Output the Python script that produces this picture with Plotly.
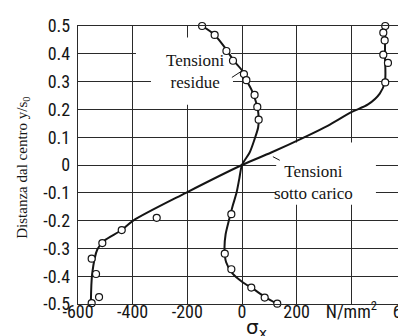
import plotly.graph_objects as go

# ---- data ----
# "Tensioni residue" curve (sigma_x, y/s0)
res_curve_x = [-146, -100, -57, -30, 0, 16, 35, 50, 58, 61, 59, 46, 28, 0, -10, -20, -35, -48, -60, -64, -58, -35, 0, 40, 85, 130]
res_curve_y = [0.5, 0.468, 0.415, 0.375, 0.34, 0.305, 0.27, 0.23, 0.2, 0.163, 0.135, 0.093, 0.045, 0.0, -0.05, -0.1, -0.15, -0.2, -0.25, -0.3, -0.35, -0.39, -0.42, -0.445, -0.475, -0.5]
res_pts_x = [-146, -100, -57, -33, 7, 16, 46, 56, 61, -39, -63, -39, 34, 83, 129]
res_pts_y = [0.5, 0.468, 0.41, 0.375, 0.327, 0.305, 0.252, 0.209, 0.163, -0.177, -0.319, -0.375, -0.441, -0.477, -0.499]

# "Tensioni sotto carico" curve
load_curve_x = [524, 523, 523, 504, 461, 400, 315, 241, 107, 0, -205, -398, -440, -505, -529, -548, -553]
load_curve_y = [0.5, 0.4, 0.3, 0.257, 0.218, 0.19, 0.142, 0.106, 0.045, 0.0, -0.1, -0.2, -0.234, -0.273, -0.303, -0.39, -0.5]
load_pts_x = [524, 517, 522, 517, 534, 524, -312, -440, -511, -550, -534, -523, -550]
load_pts_y = [0.5, 0.476, 0.448, 0.397, 0.367, 0.297, -0.19, -0.234, -0.281, -0.337, -0.392, -0.475, -0.497]

x_ticks = [-600, -400, -200, 0, 200, 400, 600]
x_ticktext = ["-600", "-400", "-200", "0", "200", "N/mm<sup>2</sup>", "600"]
y_ticks = [0.5, 0.4, 0.3, 0.2, 0.1, 0.0, -0.1, -0.2, -0.3, -0.4, -0.5]
y_ticktext = ["0.5", "0.4", "0.3", "0.2", "0.1", "0", "-0.1", "-0.2", "-0.3", "-0.4", "-0.5"]

INK = "#151515"
GRID = "#2a2a2a"
NARROW = "Roboto Condensed, DejaVu Sans Condensed, sans-serif"
SERIF = "Liberation Serif, Times New Roman, serif"

fig = go.Figure()
for cx, cy in [(res_curve_x, res_curve_y), (load_curve_x, load_curve_y)]:
    fig.add_trace(go.Scatter(x=cx, y=cy, mode="lines",
                             line=dict(color=INK, width=2, shape="spline", smoothing=0.8),
                             hoverinfo="skip", showlegend=False, cliponaxis=False))
for px, py in [(res_pts_x, res_pts_y), (load_pts_x, load_pts_y)]:
    fig.add_trace(go.Scatter(x=px, y=py, mode="markers",
                             marker=dict(symbol="circle", size=7, color="white",
                                         line=dict(color=INK, width=1.2)),
                             showlegend=False, cliponaxis=False))

# white boxes that interrupt the grid behind the labels
boxes = [(-388, -40, 0.351, 0.459), (-333, -33, 0.217, 0.351), (125, 490, -0.143, 0.081)]
for x0, x1, y0, y1 in boxes:
    fig.add_shape(type="rect", x0=x0, x1=x1, y0=y0, y1=y1, xref="x", yref="y",
                  fillcolor="white", line=dict(width=0), layer="between")

# small leader ticks
fig.add_shape(type="line", x0=-37, y0=0.315, x1=-4, y1=0.336, line=dict(color=INK, width=1))
fig.add_shape(type="line", x0=113, y0=0.03, x1=138, y1=0.017, line=dict(color=INK, width=1))

fig.add_annotation(x=-170, y=0.335, xref="x", yref="y", text="Tensioni<br>residue",
                   xanchor="center", yanchor="middle",
                   showarrow=False, font=dict(family=SERIF, size=17, color=INK))
fig.add_annotation(x=262, y=-0.062, xref="x", yref="y", text="Tensioni<br>sotto carico",
                   xanchor="center", yanchor="middle",
                   showarrow=False, font=dict(family=SERIF, size=17, color=INK))

fig.add_annotation(x=0.545, y=-0.088, xref="paper", yref="paper", text="σ<sub>x</sub>",
                   showarrow=False, font=dict(family="DejaVu Sans, sans-serif", size=20, color=INK),
                   xanchor="center", yanchor="middle")
fig.add_annotation(x=-0.17, y=0.491, xref="paper", yref="paper",
                   text="Distanza dal centro y/s<sub>0</sub>", textangle=-90,
                   showarrow=False, font=dict(family=SERIF, size=15, color=INK),
                   xanchor="center", yanchor="middle")

axis_common = dict(showgrid=True, gridcolor=GRID, gridwidth=1.3, zeroline=False,
                   showline=True, linecolor=GRID, linewidth=1.3, mirror=True,
                   ticks="", automargin=False,
                   tickfont=dict(family=NARROW, size=18, color=INK))
fig.update_xaxes(range=[-600, 600], tickmode="array", tickvals=x_ticks, ticktext=x_ticktext,
                 ticklabelstandoff=-9, ticklabeloverflow="allow", **axis_common)
fig.update_yaxes(range=[-0.5, 0.5], tickmode="array", tickvals=y_ticks, ticktext=y_ticktext,
                 ticklabelstandoff=3, **axis_common)

fig.update_layout(width=406, height=336, template="none",
                  margin=dict(l=70, r=8, t=18, b=40),
                  paper_bgcolor="white", plot_bgcolor="white", showlegend=False)
fig.write_html("out.html")
